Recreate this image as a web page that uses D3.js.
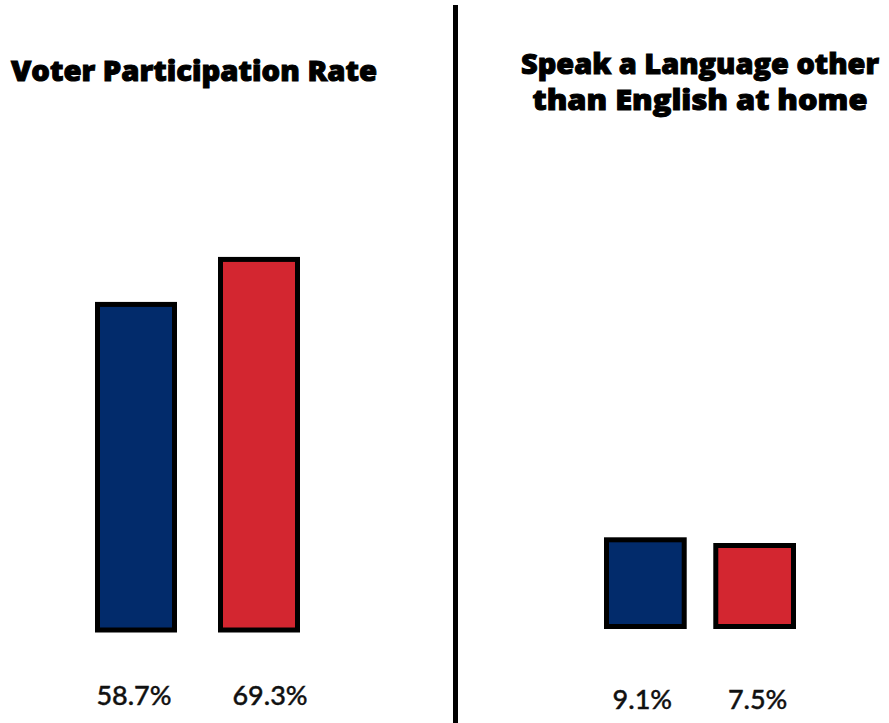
<!DOCTYPE html>
<html>
<head>
<meta charset="utf-8">
<script src="https://cdn.jsdelivr.net/npm/d3@7"></script>
<style>
  body { margin: 0; background: #fff; }
  svg { display: block; }
  .title { font-family: "Open Sans", Lato, sans-serif; font-weight: 800; font-size: 28px; fill: #000; stroke: #000; stroke-width: 1px; }
  .vlabel { font-family: Lato, "Open Sans", sans-serif; font-weight: 500; font-size: 27px; fill: #111; stroke: #111; stroke-width: 0.4px; }
</style>
</head>
<body>
<svg></svg>
<script>
// values
var groups = ["group1", "group2"];
var colors = ["#022b6b", "#d32630"];

var voterTitle = ["Voter Participation Rate"];
var voterValues = [58.7, 69.3];

var langTitle = ["Speak a Language other", "than English at home"];
var langValues = [9.1, 7.5];

var W = 889, H = 723;

var svg = d3.select('svg')
    .attr('width', W)
    .attr('height', H);

// divider
svg.append('line')
    .attr('x1', 455.5).attr('x2', 455.5)
    .attr('y1', 5).attr('y2', H)
    .attr('stroke', '#000')
    .attr('stroke-width', 5);

function panel(opts) {
    var g = svg.append('g');

    var x = d3.scaleBand()
        .domain(groups)
        .range(opts.xRange)
        .paddingInner(opts.pad);

    var y = d3.scaleLinear()
        .domain(opts.yDomain)
        .range(opts.yRange);

    g.selectAll('text.title')
        .data(opts.title)
        .enter().append('text')
        .attr('class', 'title')
        .attr('x', opts.titleX)
        .attr('y', function(d, i) { return opts.titleY + i * 36; })
        .attr('text-anchor', opts.anchor)
        .attr('textLength', function(d, i) { return opts.titleLen[i]; })
        .attr('lengthAdjust', 'spacingAndGlyphs')
        .text(function(d) { return d; });

    g.selectAll('rect.bar')
        .data(opts.values)
        .enter().append('rect')
        .attr('class', 'bar')
        .attr('x', function(d, i) { return x(groups[i]); })
        .attr('y', function(d) { return y(d); })
        .attr('width', x.bandwidth())
        .attr('height', function(d) { return y(opts.yDomain[0]) - y(d); })
        .attr('fill', function(d, i) { return colors[i]; })
        .attr('stroke', '#000')
        .attr('stroke-width', 5);

    g.selectAll('text.vlabel')
        .data(opts.values)
        .enter().append('text')
        .attr('class', 'vlabel')
        .attr('x', function(d, i) { return x(groups[i]) + x.bandwidth() / 2 + opts.labelShift[i]; })
        .attr('y', opts.labelY)
        .attr('text-anchor', 'middle')
        .text(function(d) { return d3.format('.1f')(d) + '%'; });
}

panel({
    title: voterTitle, titleLen: [366],
    titleX: 11, titleY: 81, anchor: 'start',
    values: voterValues,
    xRange: [97.5, 297.5], pad: 0.374,
    yDomain: [-18, 80], yRange: [630, 214],
    labelY: 705, labelShift: [-2, 11]
});

panel({
    title: langTitle, titleLen: [358, 335],
    titleX: 700, titleY: 74, anchor: 'middle',
    values: langValues,
    xRange: [606.5, 793.5], pad: 0.289,
    yDomain: [-15.25, 20], yRange: [626.5, 501],
    labelY: 709, labelShift: [-3, 3]
});
</script>
</body>
</html>
